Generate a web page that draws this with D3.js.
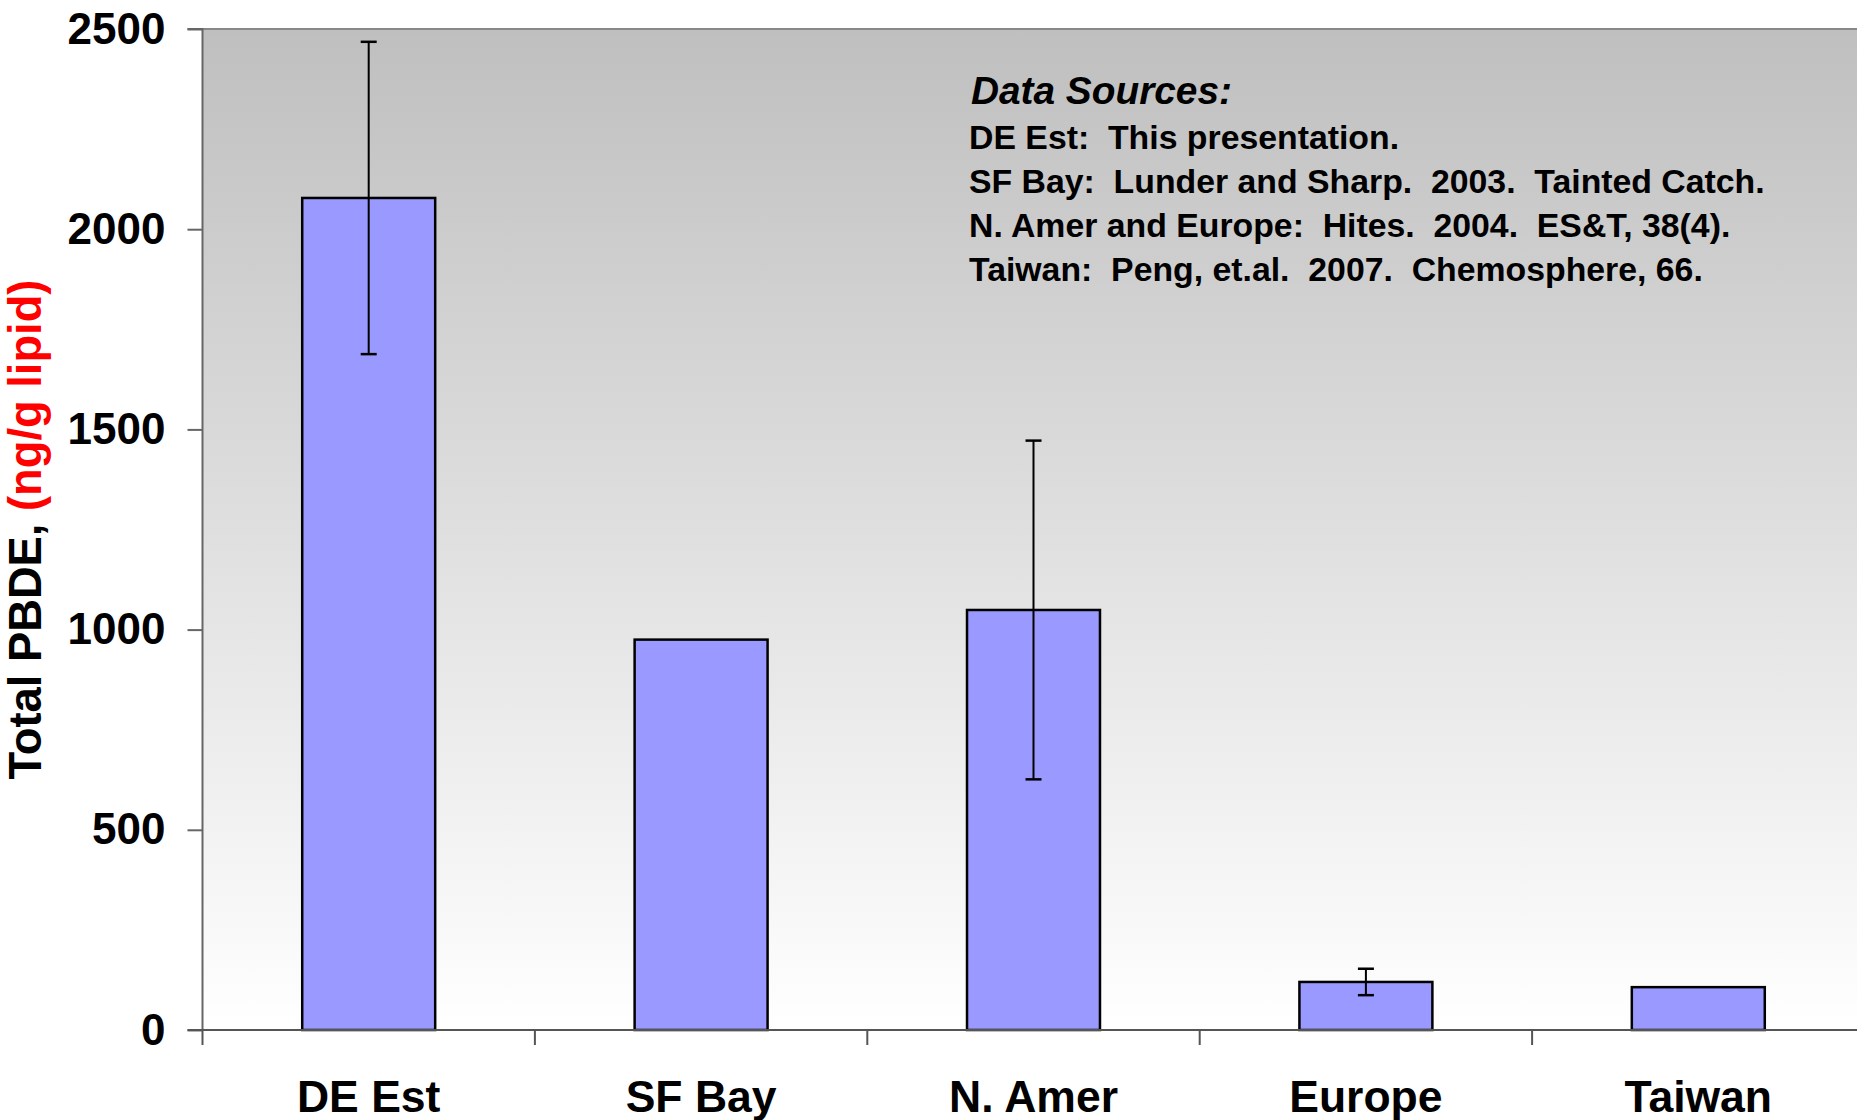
<!DOCTYPE html>
<html><head><meta charset="utf-8">
<script src="https://cdn.jsdelivr.net/npm/d3@7"></script>
<style>body{margin:0;background:#fff;overflow:hidden}svg{display:block}text{font-family:"Liberation Sans",Arial,sans-serif;font-weight:bold}</style>
</head><body>
<svg id="c" width="1857" height="1120"></svg>
<script>
const categories = ["DE Est", "SF Bay", "N. Amer", "Europe", "Taiwan"];
const values = [2078, 975, 1049, 120, 107];
const errors = [390, null, 423, 33, null];
const yTicks = [0, 500, 1000, 1500, 2000, 2500];
const sourceTitle = "Data Sources:";
const sourceLines = [
  "DE Est:  This presentation.",
  "SF Bay:  Lunder and Sharp.  2003.  Tainted Catch.",
  "N. Amer and Europe:  Hites.  2004.  ES&T, 38(4).",
  "Taiwan:  Peng, et.al.  2007.  Chemosphere, 66."
];

const svg = d3.select("#c");
const L = 202.5, T = 29, B = 1030, bandW = 332.4;
const R = L + bandW * categories.length;

const x = d3.scaleBand().domain(categories).range([L, R]).paddingInner(0.6).paddingOuter(0.3);
const xb = d3.scaleBand().domain(categories).range([L, R]);
const y = d3.scaleLinear().domain([0, 2500]).range([B, T]);

const defs = svg.append("defs");
const g = defs.append("linearGradient").attr("id", "bg").attr("x1", 0).attr("y1", 0).attr("x2", 0).attr("y2", 1);
g.append("stop").attr("offset", "0%").attr("stop-color", "#bfbfbf");
g.append("stop").attr("offset", "100%").attr("stop-color", "#ffffff");

svg.append("rect").attr("x", L).attr("y", T).attr("width", R - L).attr("height", B - T).attr("fill", "url(#bg)");
svg.append("line").attr("x1", L).attr("x2", R).attr("y1", T).attr("y2", T).attr("stroke", "#888").attr("stroke-width", 2);

// bars
svg.selectAll("rect.bar").data(categories).join("rect").attr("class", "bar")
  .attr("x", d => x(d)).attr("width", x.bandwidth())
  .attr("y", (d, i) => y(values[i])).attr("height", (d, i) => y(0) - y(values[i]))
  .attr("fill", "#9999ff").attr("stroke", "#000").attr("stroke-width", 2.5);

// error bars
const eb = categories.map((c, i) => ({c, v: values[i], e: errors[i]})).filter(d => d.e != null);
const cx = d => x(d.c) + x.bandwidth() / 2;
svg.selectAll("line.ev").data(eb).join("line").attr("class", "ev")
  .attr("x1", cx).attr("x2", cx).attr("y1", d => y(d.v + d.e)).attr("y2", d => y(d.v - d.e))
  .attr("stroke", "#000").attr("stroke-width", 2);
["top", "bot"].forEach(k => {
  svg.selectAll("line.cap" + k).data(eb).join("line").attr("class", "cap" + k)
    .attr("x1", d => cx(d) - 8).attr("x2", d => cx(d) + 8)
    .attr("y1", d => y(k === "top" ? d.v + d.e : d.v - d.e)).attr("y2", d => y(k === "top" ? d.v + d.e : d.v - d.e))
    .attr("stroke", "#000").attr("stroke-width", 2.5);
});

// y axis
const ya = svg.append("g").attr("transform", `translate(${L},0)`)
  .call(d3.axisLeft(y).tickValues(yTicks).tickSize(15).tickPadding(22).tickFormat(d3.format("d")));
ya.select(".domain").attr("stroke", "#666").attr("stroke-width", 2).attr("d", `M-15,${T}H0V${B}`);
ya.selectAll(".tick line").attr("stroke", "#666").attr("stroke-width", 2);
ya.selectAll(".tick text").attr("font-size", 44).attr("fill", "#000").attr("font-family", "Liberation Sans, Arial, sans-serif").attr("font-weight", "bold");

// x axis
const xa = svg.append("g").attr("transform", `translate(0,${B})`);
xa.append("line").attr("x1", L - 15).attr("x2", R).attr("y1", 0).attr("y2", 0).attr("stroke", "#555").attr("stroke-width", 2);
xa.selectAll("line.xt").data(categories).join("line").attr("class", "xt")
  .attr("x1", d => xb(d)).attr("x2", d => xb(d)).attr("y1", 0).attr("y2", 15)
  .attr("stroke", "#555").attr("stroke-width", 2);
xa.selectAll("text").data(categories).join("text")
  .attr("x", d => xb(d) + xb.bandwidth() / 2).attr("y", 82).attr("text-anchor", "middle")
  .attr("font-size", 44.5).attr("fill", "#000").text(d => d);

// y title
const yt = svg.append("text").attr("transform", `translate(41,${(T + B) / 2}) rotate(-90)`)
  .attr("text-anchor", "middle").attr("font-size", 45.3);
yt.append("tspan").attr("fill", "#000").text("Total PBDE, ");
yt.append("tspan").attr("fill", "#ff0000").text("(ng/g lipid)");

// data sources
const st = svg.append("g");
st.append("text").attr("x", 971).attr("y", 104).attr("font-size", 38.8).attr("font-style", "italic").attr("fill", "#000").text(sourceTitle);
st.selectAll("text.src").data(sourceLines).join("text").attr("class", "src")
  .attr("x", 969).attr("y", (d, i) => 149 + i * 44).attr("font-size", 33.8).attr("fill", "#000")
  .style("white-space", "pre").text(d => d);
</script>
</body></html>
